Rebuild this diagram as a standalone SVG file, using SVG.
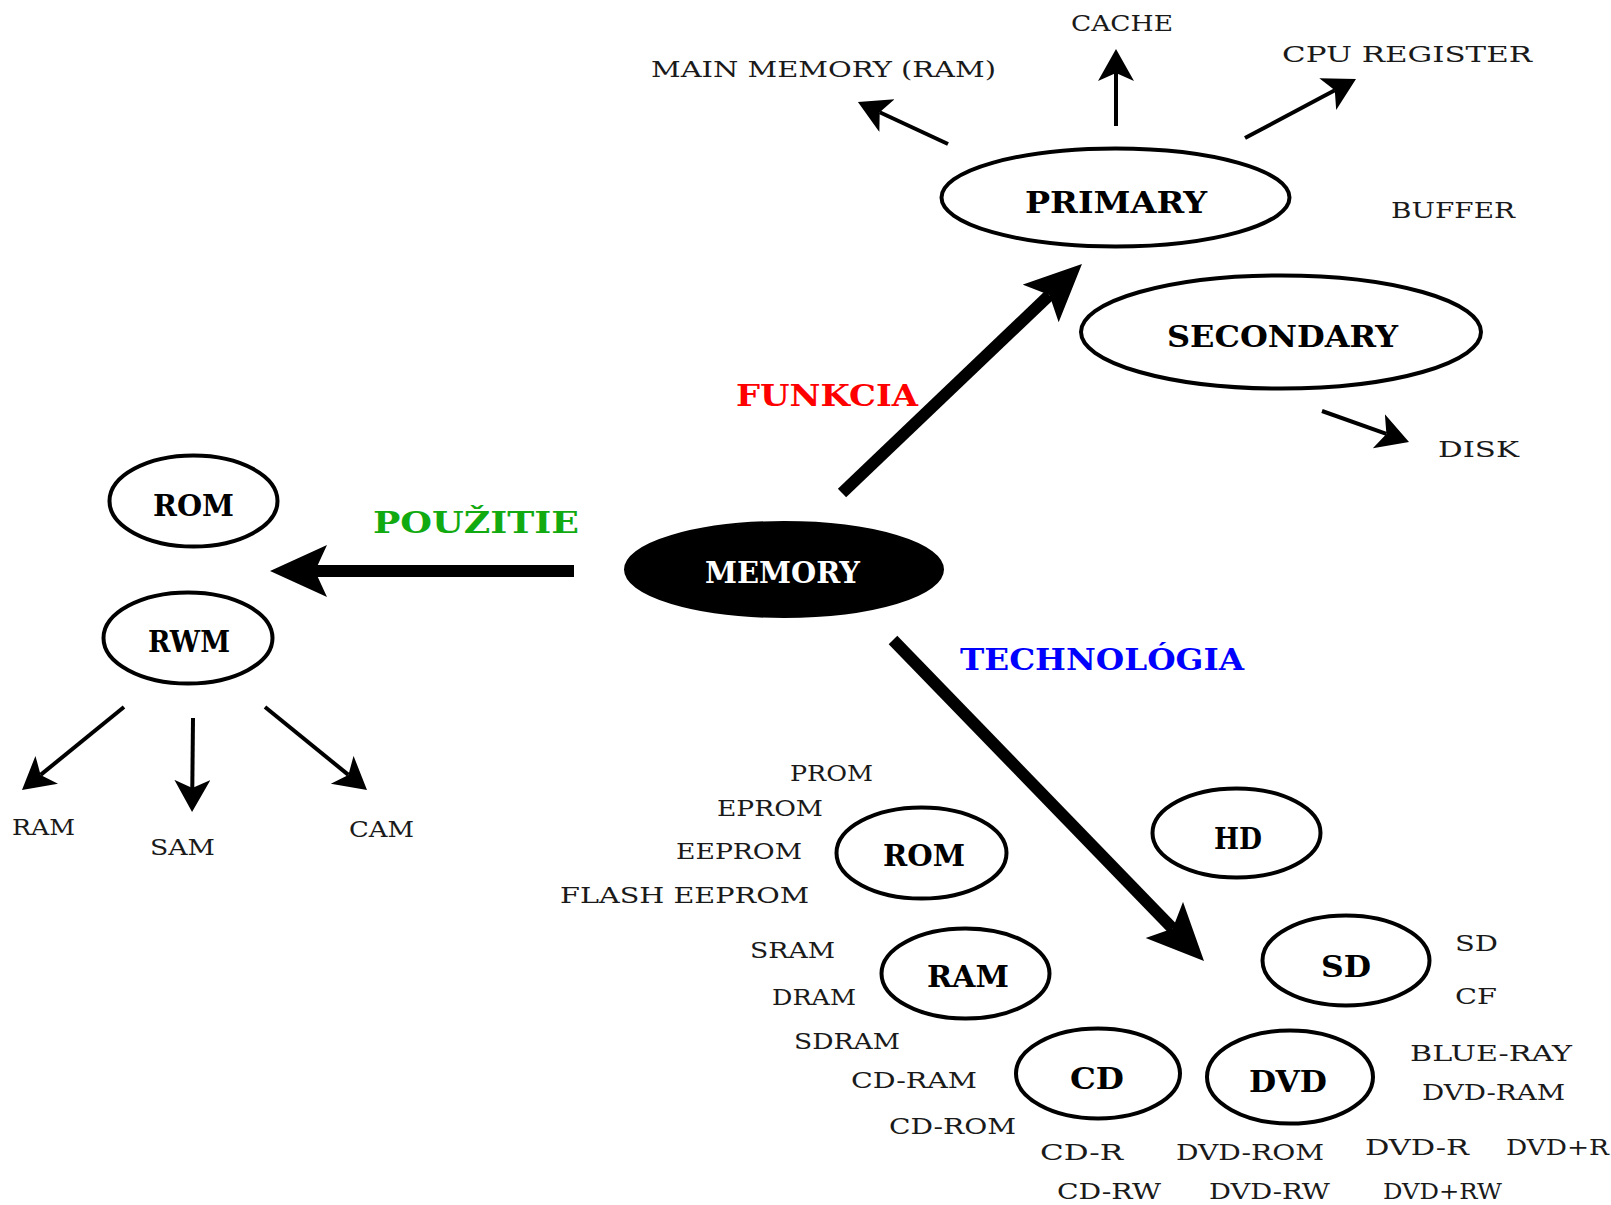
<svg xmlns="http://www.w3.org/2000/svg" width="1611" height="1205" viewBox="0 0 1611 1205">
<style>
.bg{fill:#ffffff}
.node{fill:#ffffff;stroke:#000000;stroke-width:4}
.dark{fill:#000000;stroke:#000000;stroke-width:2}
.lbl{font-family:"DejaVu Serif","Liberation Serif",serif;font-weight:bold;font-size:29px;fill:#000000}
.wlbl{font-family:"DejaVu Serif","Liberation Serif",serif;font-weight:bold;font-size:29px;fill:#ffffff}
.sm{font-family:"DejaVu Serif","Liberation Serif",serif;font-size:22px;fill:#1a1a1a}
.thin{stroke:#000000;stroke-width:4;fill:none}
.thick{stroke:#000000;stroke-width:12;fill:none}
.red{fill:#ff0000}
.green{fill:#11aa11}
.blue{fill:#0000ff}
</style>
<defs>
<marker id="ah" markerUnits="userSpaceOnUse" markerWidth="34" markerHeight="38" refX="8" refY="18" orient="auto" viewBox="0 0 34 38">
<path d="M0,0 L32,18 L0,36 L8,18 Z" fill="#000000"/>
</marker>
<marker id="ahb" markerUnits="userSpaceOnUse" markerWidth="60" markerHeight="54" refX="12" refY="26" orient="auto" viewBox="0 0 60 54">
<path d="M0,0 L57,26 L0,52 L12,26 Z" fill="#000000"/>
</marker>
</defs>
<rect class="bg" x="0" y="0" width="1611" height="1205"/>

<g id="connectors">
<line class="thin" x1="948" y1="144" x2="879.7" y2="112.2" marker-end="url(#ah)"/>
<line class="thin" x1="1116" y1="126" x2="1116" y2="73" marker-end="url(#ah)"/>
<line class="thin" x1="1245" y1="138" x2="1334.8" y2="90.3" marker-end="url(#ah)"/>
<line class="thin" x1="1322" y1="411" x2="1386.4" y2="433.9" marker-end="url(#ah)"/>
<line class="thin" x1="124" y1="707" x2="40.6" y2="774.9" marker-end="url(#ah)"/>
<line class="thin" x1="193" y1="718" x2="192.3" y2="788" marker-end="url(#ah)"/>
<line class="thin" x1="265" y1="707" x2="348.4" y2="774.9" marker-end="url(#ah)"/>
<line class="thick" x1="842" y1="493" x2="1049.4" y2="295.1" marker-end="url(#ahb)"/>
<line class="thick" x1="574" y1="571" x2="315" y2="571" marker-end="url(#ahb)"/>
<line class="thick" x1="893" y1="640" x2="1172.7" y2="928.6" marker-end="url(#ahb)"/>
<text class="lbl red" x="736" y="406" textLength="182" lengthAdjust="spacingAndGlyphs">FUNKCIA</text>
<text class="lbl green" x="373" y="533" textLength="206" lengthAdjust="spacingAndGlyphs">POUŽITIE</text>
<text class="lbl blue" x="960" y="670" textLength="284" lengthAdjust="spacingAndGlyphs">TECHNOLÓGIA</text>
</g>

<g id="memory">
<ellipse class="dark" cx="784" cy="569.5" rx="159" ry="47.5"/>
<text class="wlbl" x="705" y="583" textLength="155" lengthAdjust="spacingAndGlyphs">MEMORY</text>
</g>

<g id="primary">
<ellipse class="node" cx="1115.5" cy="197.5" rx="174" ry="49"/>
<text class="lbl" x="1025" y="213" textLength="182" lengthAdjust="spacingAndGlyphs">PRIMARY</text>
</g>
<g id="secondary">
<ellipse class="node" cx="1281" cy="332" rx="200" ry="56.5"/>
<text class="lbl" x="1167" y="347" textLength="231" lengthAdjust="spacingAndGlyphs">SECONDARY</text>
</g>

<g id="rom-use">
<ellipse class="node" cx="193.5" cy="501" rx="84" ry="45.5"/>
<text class="lbl" x="153" y="516" textLength="81" lengthAdjust="spacingAndGlyphs">ROM</text>
</g>
<g id="rwm">
<ellipse class="node" cx="188" cy="638" rx="84.5" ry="45.5"/>
<text class="lbl" x="148" y="652" textLength="82" lengthAdjust="spacingAndGlyphs">RWM</text>
</g>

<g id="rom-tech">
<ellipse class="node" cx="921.5" cy="853" rx="85" ry="45.5"/>
<text class="lbl" x="883" y="866" textLength="82" lengthAdjust="spacingAndGlyphs">ROM</text>
</g>
<g id="hd">
<ellipse class="node" cx="1236.5" cy="833" rx="84" ry="44.5"/>
<text class="lbl" x="1214" y="849" textLength="48" lengthAdjust="spacingAndGlyphs">HD</text>
</g>
<g id="ram-tech">
<ellipse class="node" cx="965.5" cy="973.5" rx="84" ry="45"/>
<text class="lbl" x="927" y="987" textLength="82" lengthAdjust="spacingAndGlyphs">RAM</text>
</g>
<g id="sd">
<ellipse class="node" cx="1346" cy="960.5" rx="83.5" ry="45"/>
<text class="lbl" x="1321" y="977" textLength="50" lengthAdjust="spacingAndGlyphs">SD</text>
</g>
<g id="cd">
<ellipse class="node" cx="1098" cy="1073.5" rx="82" ry="45"/>
<text class="lbl" x="1070" y="1089" textLength="54" lengthAdjust="spacingAndGlyphs">CD</text>
</g>
<g id="dvd">
<ellipse class="node" cx="1290" cy="1077" rx="83" ry="46.5"/>
<text class="lbl" x="1249" y="1092" textLength="78" lengthAdjust="spacingAndGlyphs">DVD</text>
</g>

<g id="labels">
<text class="sm" x="651" y="77" textLength="345" lengthAdjust="spacingAndGlyphs">MAIN MEMORY (RAM)</text>
<text class="sm" x="1071" y="31" textLength="102" lengthAdjust="spacingAndGlyphs">CACHE</text>
<text class="sm" x="1282" y="62" textLength="250" lengthAdjust="spacingAndGlyphs">CPU REGISTER</text>
<text class="sm" x="1391" y="218" textLength="124" lengthAdjust="spacingAndGlyphs">BUFFER</text>
<text class="sm" x="1438" y="457" textLength="81" lengthAdjust="spacingAndGlyphs">DISK</text>
<text class="sm" x="12" y="835" textLength="63" lengthAdjust="spacingAndGlyphs">RAM</text>
<text class="sm" x="150" y="855" textLength="65" lengthAdjust="spacingAndGlyphs">SAM</text>
<text class="sm" x="349" y="837" textLength="65" lengthAdjust="spacingAndGlyphs">CAM</text>
<text class="sm" x="790" y="781" textLength="83" lengthAdjust="spacingAndGlyphs">PROM</text>
<text class="sm" x="717" y="816" textLength="106" lengthAdjust="spacingAndGlyphs">EPROM</text>
<text class="sm" x="676" y="859" textLength="126" lengthAdjust="spacingAndGlyphs">EEPROM</text>
<text class="sm" x="560" y="903" textLength="249" lengthAdjust="spacingAndGlyphs">FLASH EEPROM</text>
<text class="sm" x="750" y="958" textLength="85" lengthAdjust="spacingAndGlyphs">SRAM</text>
<text class="sm" x="772" y="1005" textLength="84" lengthAdjust="spacingAndGlyphs">DRAM</text>
<text class="sm" x="794" y="1049" textLength="106" lengthAdjust="spacingAndGlyphs">SDRAM</text>
<text class="sm" x="851" y="1088" textLength="126" lengthAdjust="spacingAndGlyphs">CD-RAM</text>
<text class="sm" x="889" y="1134" textLength="127" lengthAdjust="spacingAndGlyphs">CD-ROM</text>
<text class="sm" x="1040" y="1160" textLength="83" lengthAdjust="spacingAndGlyphs">CD-R</text>
<text class="sm" x="1176" y="1160" textLength="148" lengthAdjust="spacingAndGlyphs">DVD-ROM</text>
<text class="sm" x="1365" y="1155" textLength="104" lengthAdjust="spacingAndGlyphs">DVD-R</text>
<text class="sm" x="1506" y="1155" textLength="103" lengthAdjust="spacingAndGlyphs">DVD+R</text>
<text class="sm" x="1057" y="1199" textLength="104" lengthAdjust="spacingAndGlyphs">CD-RW</text>
<text class="sm" x="1209" y="1199" textLength="121" lengthAdjust="spacingAndGlyphs">DVD-RW</text>
<text class="sm" x="1383" y="1199" textLength="119" lengthAdjust="spacingAndGlyphs">DVD+RW</text>
<text class="sm" x="1410" y="1061" textLength="162" lengthAdjust="spacingAndGlyphs">BLUE-RAY</text>
<text class="sm" x="1422" y="1100" textLength="143" lengthAdjust="spacingAndGlyphs">DVD-RAM</text>
<text class="sm" x="1455" y="951" textLength="43" lengthAdjust="spacingAndGlyphs">SD</text>
<text class="sm" x="1455" y="1004" textLength="42" lengthAdjust="spacingAndGlyphs">CF</text>
</g>
</svg>
